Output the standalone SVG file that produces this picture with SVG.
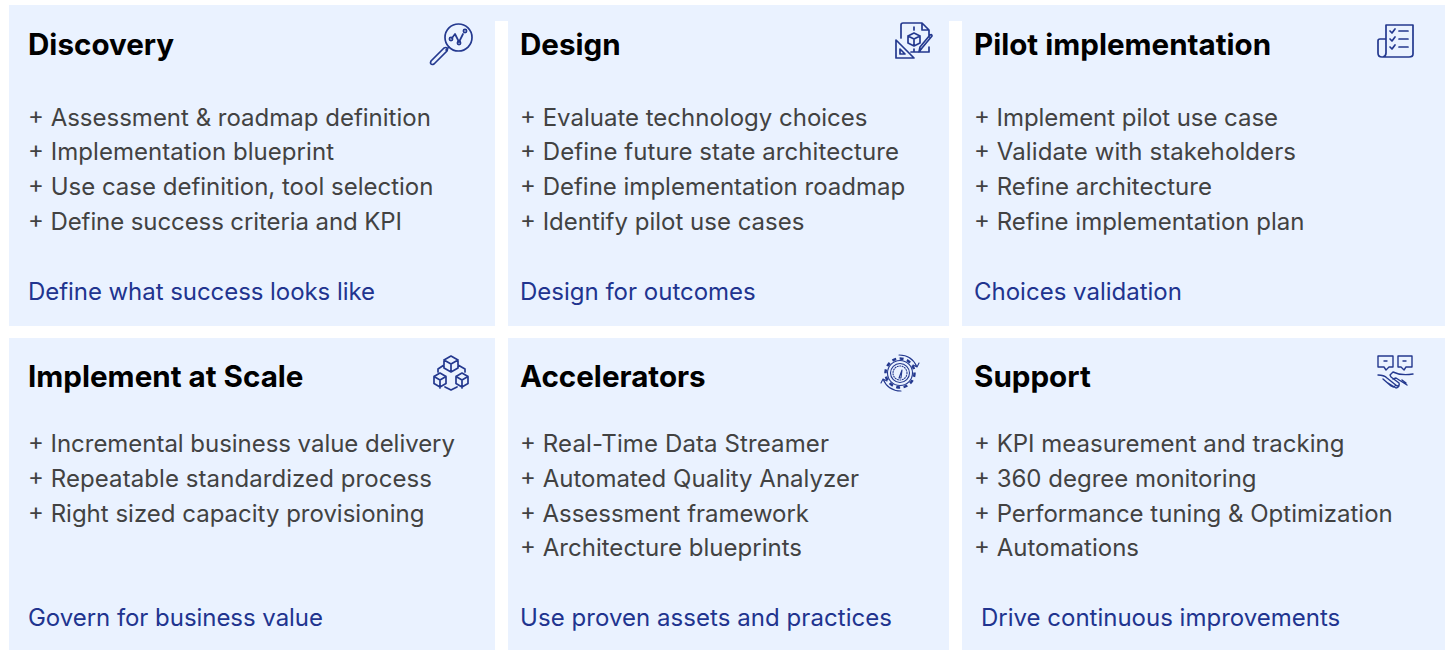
<svg xmlns="http://www.w3.org/2000/svg" width="1451" height="650" viewBox="0 0 1451 650">
<style>
text{font-family:Inter,"Liberation Sans",sans-serif}
.t{font-size:29.600px;font-weight:700;fill:#000}
.b{font-size:24px;fill:#424242}
.f{font-size:24px;fill:#21348f}
.p{fill:#eaf2ff}
.i{fill:none;stroke:#24398f;stroke-width:1.700;stroke-linejoin:round;stroke-linecap:round}
</style>
<rect width="1451" height="650" fill="#fff"/>
<rect class="p" x="9" y="5" width="1436" height="16"/>
<g id="discovery"><rect class="p" x="9" y="5" width="486" height="321"/>
<text class="t" x="28" y="55">Discovery</text>
<text class="b" x="28" y="126">+ Assessment &amp; roadmap definition</text>
<text class="b" x="28" y="160" textLength="306">+ Implementation blueprint</text>
<text class="b" x="28" y="195">+ Use case definition, tool selection</text>
<text class="b" x="28" y="230" textLength="374">+ Define success criteria and KPI</text>
<text class="f" x="28" y="300" textLength="347">Define what success looks like</text>
<g class="i"><circle cx="458.500" cy="37.500" r="13.500"/><path d="M449 47l-3 3M444 48l-13 13q-1 2 0 3q1 1 3 0l13-13q1-2 0-3q-1-1-3 0zM452 38l3-4l4 8l4-8"/><circle cx="451" cy="39" r="1.600"/><circle cx="459" cy="43" r="1.600"/><circle cx="465" cy="31" r="1.600"/></g></g>
<g id="design"><rect class="p" x="508" y="5" width="441" height="321"/>
<text class="t" x="520" y="55">Design</text>
<text class="b" x="520" y="126">+ Evaluate technology choices</text>
<text class="b" x="520" y="160" textLength="379">+ Define future state architecture</text>
<text class="b" x="520" y="195">+ Define implementation roadmap</text>
<text class="b" x="520" y="230">+ Identify pilot use cases</text>
<text class="f" x="520" y="300">Design for outcomes</text>
<g class="i"><path d="M901 38V25q0-2 2-2h19l7 7v7M922 23v7h7M929 47v5h-18M896 40l18 18h-18zM900 49l5 5h-5zM914 33l6 3v7l-6 3l-6-3v-7zM908 36l6 3l6-3M914 39v7M914 27v3M914 49v3M932 36l-10 12l-3 4l1-5l10-12q2-1 2 1z"/></g></g>
<g id="pilot"><rect class="p" x="962" y="5" width="483" height="321"/>
<text class="t" x="974" y="55">Pilot implementation</text>
<text class="b" x="974" y="126" textLength="304">+ Implement pilot use case</text>
<text class="b" x="974" y="160" textLength="322">+ Validate with stakeholders</text>
<text class="b" x="974" y="195" textLength="238">+ Refine architecture</text>
<text class="b" x="974" y="230">+ Refine implementation plan</text>
<text class="f" x="974" y="300">Choices validation</text>
<g class="i"><path d="M1386 39h-6q-2 0-2 2v12q0 4 4 4h27q4 0 4-3V25h-27v28q0 3-3 4M1390 31l2 2l3-4M1390 39l2 2l3-4M1390 47l2 2l3-4M1399 31h9M1399 39h9M1399 47h9"/></g></g>
<g id="scale"><rect class="p" x="9" y="338" width="486" height="312"/>
<text class="t" x="28" y="387">Implement at Scale</text>
<text class="b" x="28" y="452" textLength="427">+ Incremental business value delivery</text>
<text class="b" x="28" y="487" textLength="404">+ Repeatable standardized process</text>
<text class="b" x="28" y="522">+ Right sized capacity provisioning</text>
<text class="f" x="28" y="626" textLength="295">Govern for business value</text>
<g class="i"><path d="M451 356l7 4v8l-7 4l-7-4v-8zM444 360l7 4l7-4M451 364v8M440 373l6 3.500v7l-6 3.500l-6-3.500v-7zM434 376.500l6 3.500l6-3.500M440 380v8M462 373l6 3.500v7l-6 3.500l-6-3.500v-7zM456 376.500l6 3.500l6-3.500M462 380v8M444 365l-6 4v3M458 365l7 4v3M445 387l6 3l6-3"/></g></g>
<g id="accelerators"><rect class="p" x="508" y="338" width="441" height="312"/>
<text class="t" x="520" y="387">Accelerators</text>
<text class="b" x="520" y="452" textLength="309">+ Real-Time Data Streamer</text>
<text class="b" x="520" y="487" textLength="339">+ Automated Quality Analyzer</text>
<text class="b" x="520" y="522" textLength="289">+ Assessment framework</text>
<text class="b" x="520" y="556" textLength="282">+ Architecture blueprints</text>
<text class="f" x="520" y="626" textLength="372">Use proven assets and practices</text>
<g class="i" style="stroke-width:1.100"><circle cx="900" cy="373" r="9.500"/><circle cx="900" cy="373" r="7" stroke-dasharray="1 1.500"/><circle cx="900" cy="373" r="12.500"/><circle cx="900" cy="373" r="14.500" stroke-dasharray="4 3.500" style="stroke-width:2.500;stroke-linecap:butt"/><path d="M899 378l3-8l-1 8zM899 355q13 0 18 12l-4-2M917 367l2-4M901 391q-13 0-18-12l4 2M883 379l-2 4"/></g></g>
<g id="support"><rect class="p" x="962" y="338" width="483" height="312"/>
<text class="t" x="974" y="387">Support</text>
<text class="b" x="974" y="452">+ KPI measurement and tracking</text>
<text class="b" x="974" y="487">+ 360 degree monitoring</text>
<text class="b" x="974" y="522">+ Performance tuning &amp; Optimization</text>
<text class="b" x="974" y="556" textLength="165">+ Automations</text>
<text class="f" x="981" y="626">Drive continuous improvements</text>
<g class="i" style="stroke-width:1.400"><path d="M1378 356h15v11h-4l-3 3l-2-3h-6zM1398 356h14v11h-6l-2 3l-3-3h-3zM1384 361h3M1403 361h3M1378 375q6 0 9 3l10 8q3 0 2-3l-8-6M1391 377l-1-2l3-3q8 4 20 2M1383 379l8 7q3 2 4 0M1388 383l8 5q2 0 3-2M1393 379l3-1l11 7M1402 380l4 3"/></g></g>
</svg>
